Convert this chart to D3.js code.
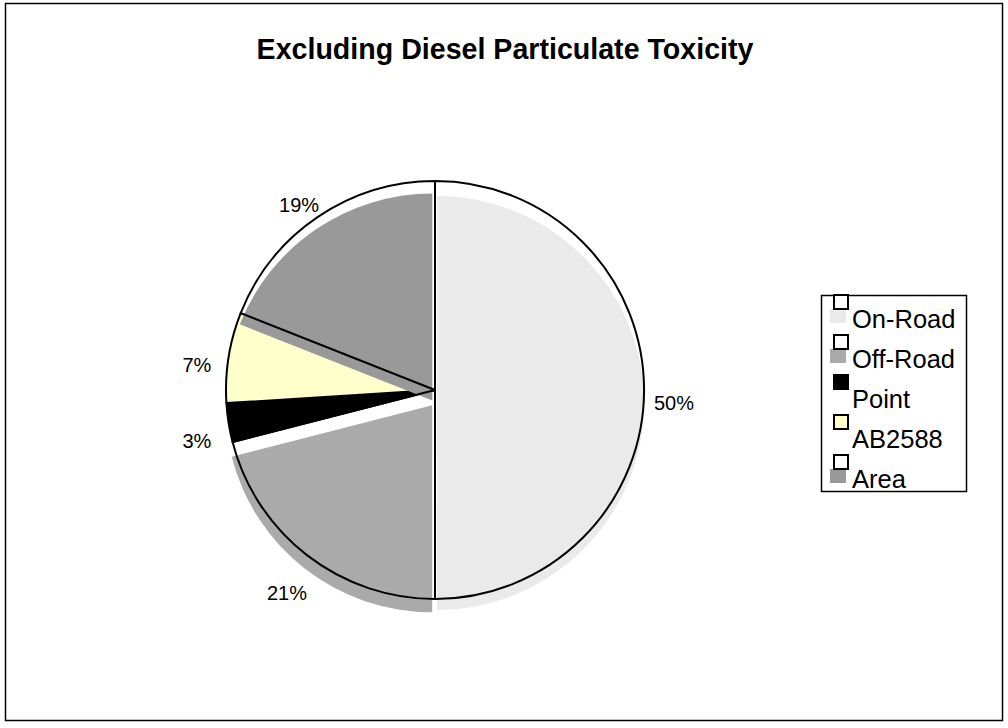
<!DOCTYPE html>
<html>
<head>
<meta charset="utf-8">
<script src="https://cdn.jsdelivr.net/npm/d3@7"></script>
<style>
  html, body { margin: 0; padding: 0; background: #fff; }
  svg { display: block; font-family: "Liberation Sans", Arial, sans-serif; }
</style>
</head>
<body>
<svg id="chart" width="1008" height="728"></svg>
<script>
// ---- data ----
const title = "Excluding Diesel Particulate Toxicity";
const categories = ["On-Road", "Off-Road", "Point", "AB2588", "Area"];
const values = [50, 21, 3, 7, 19];
const percentLabels = ["50%", "21%", "3%", "7%", "19%"];
const sliceColors = ["#eaeaea", "#aaaaaa", "#000000", "#ffffcc", "#999999"];
// slices whose fill is drawn apart from their outline (as in the original rendering)
const detachedFill = [true, true, false, false, true];

// ---- layout ----
const W = 1008, H = 728;
const cx = 435, cy = 390, R = 209;          // outline pie
const shadowDx = -1, shadowDy = 13;          // fill offset for detached slices
const fillR = 207, explode = 3;
const labelR = 240;

const svg = d3.select("#chart");
svg.append("rect").attr("width", W).attr("height", H).attr("fill", "#fff");
svg.append("rect").attr("x", 5.5).attr("y", 3.5).attr("width", 997).attr("height", 717)
  .attr("fill", "none").attr("stroke", "#000").attr("stroke-width", 1.5);

svg.append("text").attr("x", 505).attr("y", 59).attr("text-anchor", "middle")
  .attr("font-size", 28.6).attr("font-weight", "bold").attr("fill", "#000").text(title);

const color = d3.scaleOrdinal().domain(categories).range(sliceColors);
const pie = d3.pie().sort(null).value(d => d.value).startAngle(0).endAngle(2 * Math.PI);
const data = categories.map((c, i) => ({ name: c, value: values[i], label: percentLabels[i], detached: detachedFill[i] }));
const arcs = pie(data);

const arcOutline = d3.arc().innerRadius(0).outerRadius(R);
const arcFill = d3.arc().innerRadius(0).outerRadius(fillR);

// 1. attached slices (fill + outline at true position)
const gMain = svg.append("g").attr("transform", `translate(${cx},${cy})`);
gMain.selectAll("path.attached").data(arcs.filter(a => !a.data.detached)).join("path")
  .attr("class", "attached")
  .attr("d", arcOutline)
  .attr("fill", a => color(a.data.name))
  .attr("stroke", "#000").attr("stroke-width", 2).attr("stroke-linejoin", "round");

// 2. detached fills (offset)
const gFill = svg.append("g").attr("transform", `translate(${cx + shadowDx},${cy + shadowDy})`);
gFill.selectAll("path.fill").data(arcs.filter(a => a.data.detached)).join("path")
  .attr("class", "fill")
  .attr("transform", a => {
    const m = (a.startAngle + a.endAngle) / 2;
    return `translate(${Math.sin(m) * explode},${-Math.cos(m) * explode})`;
  })
  .attr("d", arcFill)
  .attr("fill", a => color(a.data.name));

// 3. detached outlines (on top)
const gOut = svg.append("g").attr("transform", `translate(${cx},${cy})`);
gOut.selectAll("path.outline").data(arcs.filter(a => a.data.detached)).join("path")
  .attr("class", "outline")
  .attr("d", arcOutline)
  .attr("fill", "none")
  .attr("stroke", "#000").attr("stroke-width", 2).attr("stroke-linejoin", "round");

// 4. labels
const labelArc = d3.arc().innerRadius(labelR).outerRadius(labelR);
gFill.selectAll("text.lab").data(arcs).join("text")
  .attr("class", "lab")
  .attr("transform", a => `translate(${labelArc.centroid(a)})`)
  .attr("text-anchor", "middle").attr("dy", "0.35em")
  .attr("font-size", 20).attr("fill", "#000")
  .text(a => a.data.label);

// ---- legend ----
const lg = svg.append("g");
lg.append("rect").attr("x", 821.5).attr("y", 295.5).attr("width", 145).attr("height", 196)
  .attr("fill", "#fff").attr("stroke", "#000").attr("stroke-width", 1.5);
const rowY = d3.scalePoint().domain(categories).range([294, 454]);
const items = lg.selectAll("g.item").data(data).join("g").attr("class", "item")
  .attr("transform", d => `translate(833,${rowY(d.name)})`);
items.filter(d => d.detached).append("rect")
  .attr("x", -3).attr("y", 15).attr("width", 16).attr("height", 14)
  .attr("fill", d => color(d.name));
items.append("rect").attr("x", 1).attr("y", 1).attr("width", 14).attr("height", 14)
  .attr("fill", d => d.detached ? "#fff" : color(d.name))
  .attr("stroke", "#000").attr("stroke-width", 2);
items.append("text").attr("x", 19).attr("y", 34)
  .attr("font-size", 25.5).attr("fill", "#000").text(d => d.name);
</script>
</body>
</html>
